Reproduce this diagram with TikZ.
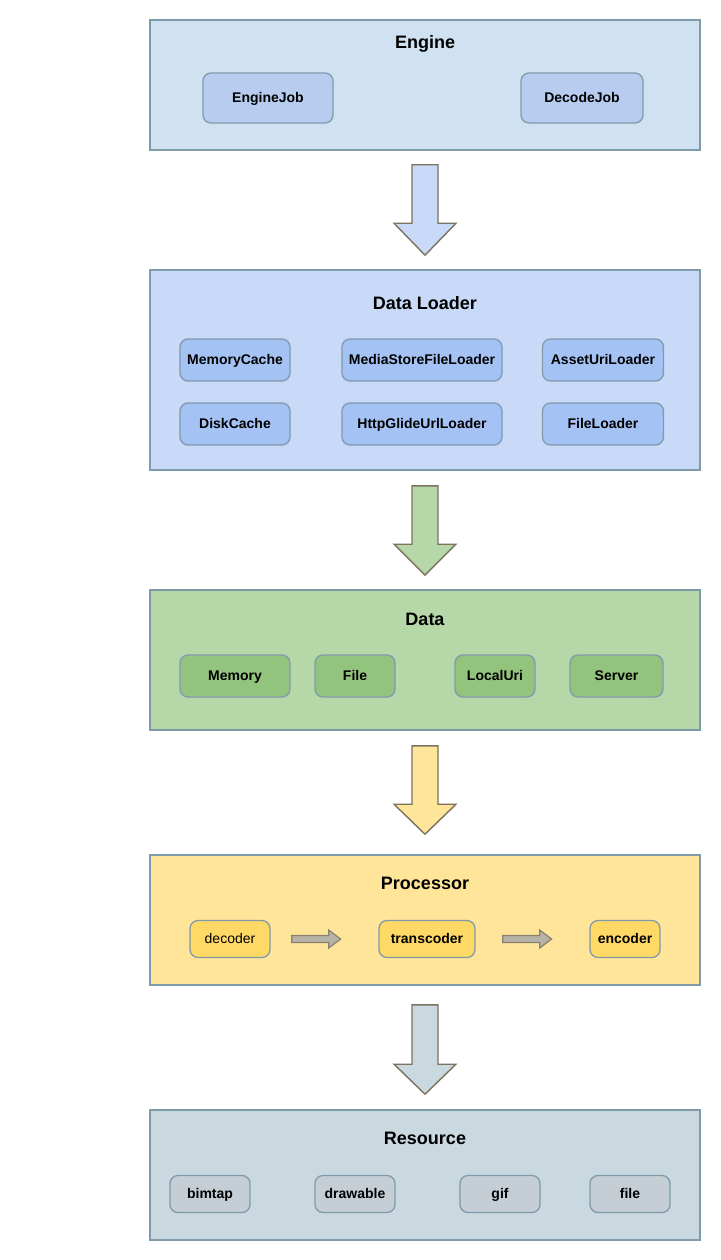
\documentclass[tikz,border=0pt]{standalone}
\usepackage[rgb]{xcolor}
\usepackage{fontspec}
\setmainfont{Liberation Sans}
\usepackage{tikz}
\usetikzlibrary{calc}

\definecolor{frameline}{HTML}{7F9BAA}
\definecolor{arrowline}{HTML}{7B7260}
\definecolor{engfill}{HTML}{D0E2F2}
\definecolor{engnode}{HTML}{B8CCF0}
\definecolor{ldfill}{HTML}{C9DAF8}
\definecolor{ldnode}{HTML}{A4C2F4}
\definecolor{datafill}{HTML}{B6D7A8}
\definecolor{datanode}{HTML}{93C47D}
\definecolor{procfill}{HTML}{FFE599}
\definecolor{procnode}{HTML}{FFD966}
\definecolor{resfill}{HTML}{CAD8E0}
\definecolor{resnode}{HTML}{C5CED5}
\definecolor{stepfill}{HTML}{B8B3A7}

\begin{document}
\begin{tikzpicture}[x=1pt, y=1pt,
  frame/.style={draw=frameline, line width=1.6pt, minimum width=550, inner sep=0pt},
  title/.style={inner sep=0pt, text height=13pt, text depth=0pt,
    font=\bfseries\fontsize{18}{21}\selectfont},
  part/.style={draw=frameline, line width=1.3pt, rounded corners=8pt, inner sep=0pt,
    text height=9pt, text depth=0pt, font=\bfseries\fontsize{14}{16}\selectfont},
  bigarrow/.style={draw=arrowline, line width=1.4pt, line join=miter},
  smallarrow/.style={draw=arrowline!90!white, fill=stepfill, line width=1.2pt}]

\useasboundingbox (0,0) rectangle (720,-1260);

% Engine
\node[frame, fill=engfill, minimum height=130] (engine) at (425,-85) {};
\node[title] (enginetitle) at (425,-42) {Engine};
\node[part, fill=engnode, minimum width=130, minimum height=50] (enginejob) at (268,-98) {EngineJob};
\node[part, fill=engnode, minimum width=122, minimum height=50] (decodejob) at (582,-98) {DecodeJob};

% Data Loader
\node[frame, fill=ldfill, minimum height=200] (loader) at (425,-370) {};
\node[title] (loadertitle) at (425,-303) {Data Loader};
\node[part, fill=ldnode, minimum width=110, minimum height=42] (memcache) at (235,-360) {MemoryCache};
\node[part, fill=ldnode, minimum width=160, minimum height=42] (mediastore) at (422,-360) {MediaStoreFileLoader};
\node[part, fill=ldnode, minimum width=121, minimum height=42] (asseturi) at (603,-360) {AssetUriLoader};
\node[part, fill=ldnode, minimum width=110, minimum height=42] (diskcache) at (235,-424) {DiskCache};
\node[part, fill=ldnode, minimum width=160, minimum height=42] (httpglide) at (422,-424) {HttpGlideUrlLoader};
\node[part, fill=ldnode, minimum width=121, minimum height=42] (fileloader) at (603,-424) {FileLoader};

% Data
\node[frame, fill=datafill, minimum height=140] (data) at (425,-660) {};
\node[title] (datatitle) at (425,-619) {Data};
\node[part, fill=datanode, minimum width=110, minimum height=42] (memory) at (235,-676) {Memory};
\node[part, fill=datanode, minimum width=80, minimum height=42] (datafile) at (355,-676) {File};
\node[part, fill=datanode, minimum width=80, minimum height=42] (localuri) at (495,-676) {LocalUri};
\node[part, fill=datanode, minimum width=93, minimum height=42] (server) at (616.5,-676) {Server};

% Processor
\node[frame, fill=procfill, minimum height=130] (processor) at (425,-920) {};
\node[title] (proctitle) at (425,-883) {Processor};
\node[part, fill=procnode, minimum width=80, minimum height=37, font=\fontsize{14}{16}\selectfont] (decoder) at (230,-939) {decoder};
\node[part, fill=procnode, minimum width=96, minimum height=37] (transcoder) at (427,-939) {transcoder};
\node[part, fill=procnode, minimum width=70, minimum height=37] (encoder) at (625,-939) {encoder};

\draw[smallarrow] ($(decoder.east)+(21,3.5)$) -- ++(37,0) -- ++(0,5.5) -- ++(12,-9)
  -- ++(-12,-9) -- ++(0,5.5) -- ++(-37,0) -- cycle;
\draw[smallarrow] ($(transcoder.east)+(27,3.5)$) -- ++(37,0) -- ++(0,5.5) -- ++(12,-9)
  -- ++(-12,-9) -- ++(0,5.5) -- ++(-37,0) -- cycle;

% Resource
\node[frame, fill=resfill, minimum height=130] (resource) at (425,-1175) {};
\node[title] (restitle) at (425,-1138) {Resource};
\node[part, fill=resnode, minimum width=80, minimum height=37] (bimtap) at (210,-1194) {bimtap};
\node[part, fill=resnode, minimum width=80, minimum height=37] (drawable) at (355,-1194) {drawable};
\node[part, fill=resnode, minimum width=80, minimum height=37] (gif) at (500,-1194) {gif};
\node[part, fill=resnode, minimum width=80, minimum height=37] (resfile) at (630,-1194) {file};

% big arrows between the layers
\draw[bigarrow, fill=ldfill] ($(engine.south)+(-13,-14)$) -- ++(26,0)
  -- ($(loader.north)+(13,46)$) -- ++(18,0) -- ($(loader.north)+(0,14)$)
  -- ++(-31,32) -- ++(18,0) -- cycle;
\draw[bigarrow, fill=datafill] ($(loader.south)+(-13,-15)$) -- ++(26,0)
  -- ($(data.north)+(13,45)$) -- ++(18,0) -- ($(data.north)+(0,14)$)
  -- ++(-31,31) -- ++(18,0) -- cycle;
\draw[bigarrow, fill=procfill] ($(data.south)+(-13,-15)$) -- ++(26,0)
  -- ($(processor.north)+(13,50)$) -- ++(18,0) -- ($(processor.north)+(0,20)$)
  -- ++(-31,30) -- ++(18,0) -- cycle;
\draw[bigarrow, fill=resfill] ($(processor.south)+(-13,-19)$) -- ++(26,0)
  -- ($(resource.north)+(13,45)$) -- ++(18,0) -- ($(resource.north)+(0,15)$)
  -- ++(-31,30) -- ++(18,0) -- cycle;

\end{tikzpicture}
\end{document}
